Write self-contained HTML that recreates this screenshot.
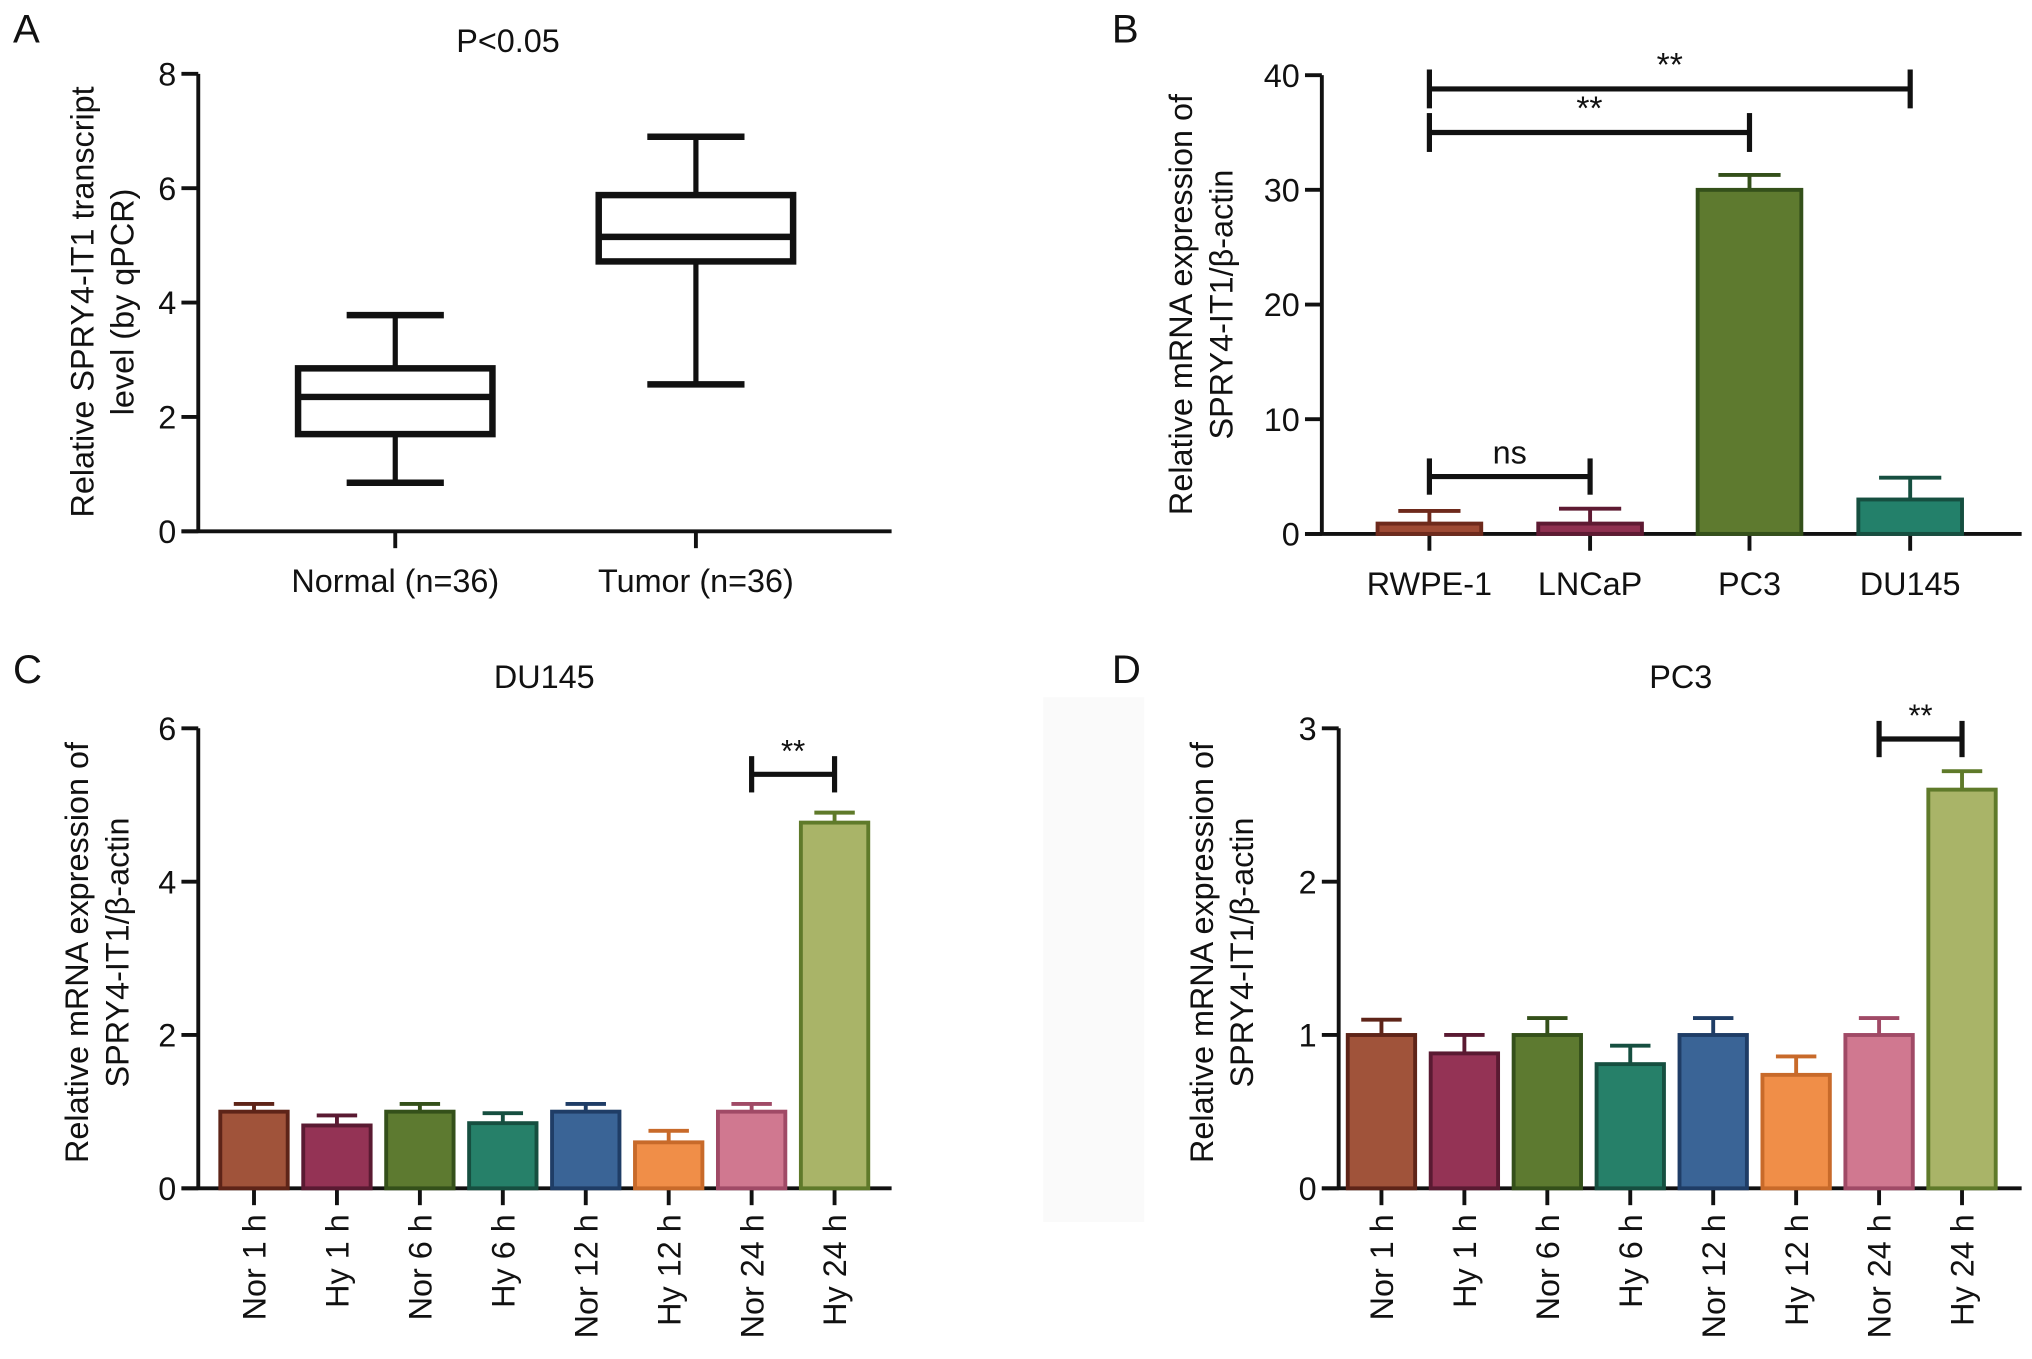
<!DOCTYPE html>
<html><head><meta charset="utf-8"><style>
html,body{margin:0;padding:0;background:#fff;}
svg{display:block;font-family:"Liberation Sans",Arial,sans-serif;}
</style></head><body>
<svg id="fig" width="2032" height="1359" viewBox="0 0 1568 1048.7" preserveAspectRatio="none">
<rect x="805" y="538" width="78" height="405" fill="#fafafa"/>
</svg>
<script>
// ---- data ----
const boxCats = ["Normal (n=36)", "Tumor (n=36)"];
const boxMin = [0.85, 2.57];
const boxQ1 = [1.7, 4.72];
const boxMed = [2.35, 5.15];
const boxQ3 = [2.85, 5.88];
const boxMax = [3.78, 6.9];
const boxTicks = [0, 2, 4, 6, 8];

const cellCats = ["RWPE-1", "LNCaP", "PC3", "DU145"];
const cellVals = [0.9, 0.9, 30, 3];
const cellErr = [1.1, 1.3, 1.3, 1.9];
const cellTicks = [0, 10, 20, 30, 40];

const timeCats = ["Nor 1 h", "Hy 1 h", "Nor 6 h", "Hy 6 h", "Nor 12 h", "Hy 12 h", "Nor 24 h", "Hy 24 h"];
const du145Vals = [1.0, 0.82, 1.0, 0.85, 1.0, 0.6, 1.0, 4.77];
const du145Err = [0.1, 0.13, 0.1, 0.13, 0.1, 0.15, 0.1, 0.13];
const du145Ticks = [0, 2, 4, 6];
const pc3Vals = [1.0, 0.88, 1.0, 0.81, 1.0, 0.74, 1.0, 2.6];
const pc3Err = [0.1, 0.12, 0.11, 0.12, 0.11, 0.12, 0.11, 0.12];
const pc3Ticks = [0, 1, 2, 3];

const cellFill = ["#9e4a34", "#8f3050", "#5e7a2f", "#23806a"];
const cellStroke = ["#6e2a1c", "#5e1a32", "#34501a", "#164f40"];
const timeFill = ["#a0533a", "#943355", "#5d7a30", "#268069", "#3a6496", "#f08e48", "#d07890", "#a9b468"];
const timeStroke = ["#5e2418", "#5a1a32", "#34501a", "#164f40", "#1f3d66", "#c86a2a", "#a04a66", "#5f7a2a"];

const FS = 25;
const NS = "http://www.w3.org/2000/svg";
const svg = document.getElementById("fig");
function el(tag, attrs, parent, text) {
  const e = document.createElementNS(NS, tag);
  for (const k in attrs) e.setAttribute(k, attrs[k]);
  if (text !== undefined) e.textContent = text;
  (parent || svg).appendChild(e);
  return e;
}
function line(g, x1, y1, x2, y2, w, c) {
  return el("line", {x1, y1, x2, y2, stroke: c || "#111", "stroke-width": w || 3}, g);
}

function axes(g, ax, y0, yTop, xStart, xEnd, ticks, tmax, tickXs) {
  const ys = v => y0 - (v / tmax) * (y0 - yTop);
  const yl = line(g, ax, y0, ax, yTop, 3);
  
  
  const xl = line(g, xStart, y0, xEnd, y0, 3);
  
  
  ticks.forEach(t => {
    line(g, ax - 13, ys(t), ax, ys(t), 3);
    const tl = el("text", {x: ax - 17, y: ys(t) + 9, "text-anchor": "end", "font-size": FS, fill: "#111"}, g, String(t));
    
    
  });
  tickXs.forEach(x => line(g, x, y0, x, y0 + 13, 3));
  return ys;
}
function ytitle(g, cx, cy, l1, l2) {
  const t = el("text", {transform: `translate(${cx},${cy}) rotate(-90)`, "text-anchor": "middle", "font-size": FS, fill: "#111"}, g);
  
  
  el("tspan", {x: 0, y: 0}, t, l1);
  el("tspan", {x: 0, y: 31}, t, l2);
}
function label(txt, x, y) {
  const t = el("text", {x, y, "font-size": 31, fill: "#111"}, svg, txt);
  
  
}
function bracket(g, x1, x2, y, h, txt, fs) {
  line(g, x1, y, x2, y, 4);
  line(g, x1, y - h, x1, y + h, 4);
  line(g, x2, y - h, x2, y + h, 4);
  const t = el("text", {x: (x1 + x2) / 2, y: y - 10, "text-anchor": "middle", "font-size": fs || 26, fill: "#111"}, g, txt);
  
  
}
function bars(g, xs, vals, errs, ys, w, fills, strokes, y0) {
  vals.forEach((v, i) => {
    const x = xs[i], top = ys(v), et = ys(v + errs[i]);
    const eb = line(g, x, top, x, et, 3, strokes[i]);
    
    
    line(g, x - w * 0.3, et, x + w * 0.3, et, 3, strokes[i]);
    const r = el("rect", {x: x - w / 2, y: top, width: w, height: y0 - top, fill: fills[i], stroke: strokes[i], "stroke-width": 3}, g);
    
    
  });
}

// ---- Panel A ----
label("A", 10, 33);
const gA = el("g", {});  
const aX = [305, 537];
const ysA = axes(gA, 153, 410, 57, 140, 688, boxTicks, 8, aX);
ytitle(gA, 72, 233, "Relative SPRY4-IT1 transcript", "level (by qPCR)");
el("text", {x: 392, y: 40, "text-anchor": "middle", "font-size": FS, fill: "#111"}, gA, "P<0.05");
boxCats.forEach((c, i) => {
  const x = aX[i], bw = 150, cw = 75;
  line(gA, x, ysA(boxMin[i]), x, ysA(boxQ1[i]), 4);
  line(gA, x, ysA(boxQ3[i]), x, ysA(boxMax[i]), 4);
  line(gA, x - cw / 2, ysA(boxMin[i]), x + cw / 2, ysA(boxMin[i]), 5);
  line(gA, x - cw / 2, ysA(boxMax[i]), x + cw / 2, ysA(boxMax[i]), 5);
  const r = el("rect", {x: x - bw / 2, y: ysA(boxQ3[i]), width: bw, height: ysA(boxQ1[i]) - ysA(boxQ3[i]), fill: "#fff", stroke: "#111", "stroke-width": 5}, gA);
  
  
  line(gA, x - bw / 2, ysA(boxMed[i]), x + bw / 2, ysA(boxMed[i]), 5);
  const t = el("text", {x, y: 457, "text-anchor": "middle", "font-size": FS, fill: "#111"}, gA, c);
  
  
});

// ---- Panel B ----
label("B", 858, 33);
const gB = el("g", {});  
const bX = [1103, 1227, 1350, 1474];
const ysB = axes(gB, 1020, 412, 58, 1007, 1560, cellTicks, 40, bX);
ytitle(gB, 920, 235, "Relative mRNA expression of", "SPRY4-IT1/\u03b2-actin");
bars(gB, bX, cellVals, cellErr, ysB, 80, cellFill, cellStroke, 412);
cellCats.forEach((c, i) => {
  const t = el("text", {x: bX[i], y: 459, "text-anchor": "middle", "font-size": FS, fill: "#111"}, gB, c);
  
  
});
bracket(gB, bX[0], bX[1], ysB(5), 14, "ns", 25);
bracket(gB, bX[0], bX[2], ysB(35), 15, "**", 26);
bracket(gB, bX[0], bX[3], ysB(38.8), 15, "**", 26);

// ---- Panel C ----
label("C", 10, 527);
const gC = el("g", {});  
const cX = timeCats.map((_, i) => 196 + i * 64);
const ysC = axes(gC, 153, 917, 562, 140, 688, du145Ticks, 6, cX);
ytitle(gC, 68, 735, "Relative mRNA expression of", "SPRY4-IT1/\u03b2-actin");
el("text", {x: 420, y: 531, "text-anchor": "middle", "font-size": FS, fill: "#111"}, gC, "DU145");
bars(gC, cX, du145Vals, du145Err, ysC, 52, timeFill, timeStroke, 917);
timeCats.forEach((c, i) => {
  const t = el("text", {transform: `translate(${cX[i] + 9},937) rotate(-90)`, "text-anchor": "end", "font-size": FS, fill: "#111"}, gC, c);
  
  
});
bracket(gC, cX[6], cX[7], ysC(5.4), 14, "**", 24);

// ---- Panel D ----
label("D", 858, 527);
const gD = el("g", {});  
const dX = timeCats.map((_, i) => 1066 + i * 64);
const ysD = axes(gD, 1033, 917, 562, 1020, 1560, pc3Ticks, 3, dX);
ytitle(gD, 936, 735, "Relative mRNA expression of", "SPRY4-IT1/\u03b2-actin");
el("text", {x: 1297, y: 531, "text-anchor": "middle", "font-size": FS, fill: "#111"}, gD, "PC3");
bars(gD, dX, pc3Vals, pc3Err, ysD, 52, timeFill, timeStroke, 917);
timeCats.forEach((c, i) => {
  const t = el("text", {transform: `translate(${dX[i] + 9},937) rotate(-90)`, "text-anchor": "end", "font-size": FS, fill: "#111"}, gD, c);
  
  
});
bracket(gD, dX[6], dX[7], ysD(2.93), 14, "**", 24);
</script>
</body></html>
